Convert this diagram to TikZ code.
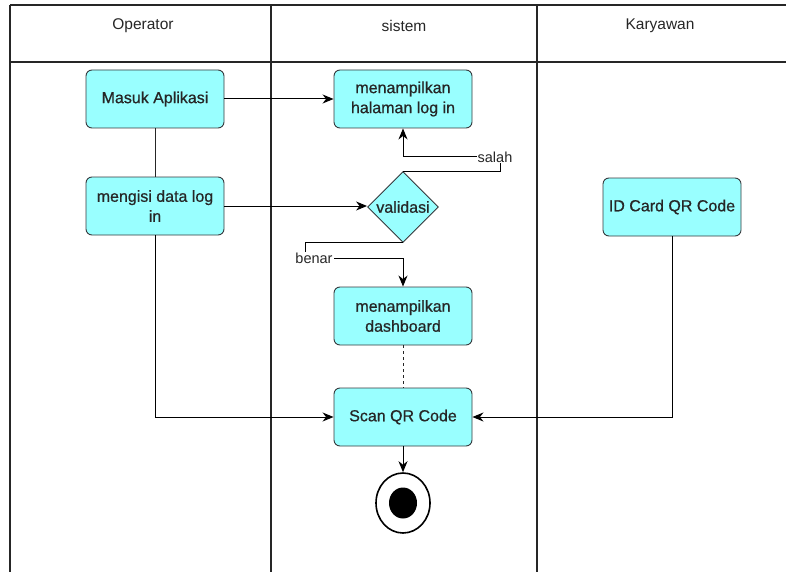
\documentclass[tikz,border=0pt]{standalone}
\usepackage{fontspec}
\setmainfont{Liberation Sans}
\newfontfamily\actfont[FakeBold=0.7]{Liberation Sans}
\usetikzlibrary{arrows.meta,shapes.geometric}
\definecolor{actfill}{HTML}{99FFFF}
\definecolor{actline}{HTML}{36393D}

\begin{document}
\begin{tikzpicture}[x=1pt,y=-1pt,
  lane/.style={draw=black!85, line width=1.5pt},
  hdr/.style={font=\fontsize{15.5}{18}\selectfont, text=black!85},
  act/.style={draw=actline, fill=actfill, rounded corners=6pt, line width=0.9pt,
    minimum width=138pt, minimum height=58pt, inner sep=2pt, align=center,
    font=\actfont\fontsize{16}{20}\selectfont, text=black!85},
  decide/.style={diamond, draw=actline, fill=actfill, line width=0.9pt,
    minimum width=71pt, minimum height=71pt, inner sep=0pt},
  flow/.style={draw=black, line width=1pt, -{Stealth[length=11pt,width=9pt,inset=3.5pt]}},
  plainlink/.style={draw=black!85, line width=1pt},
  guard/.style={fill=white, inner sep=1pt, font=\fontsize{14.5}{16}\selectfont, text=black!85}]

\useasboundingbox (0,0) rectangle (786,572);

% swimlanes
\draw[lane] (10,5) -- (786,5);
\draw[lane] (10,62) -- (786,62);
\draw[lane] (10,5) -- (10,572);
\draw[lane] (271,5) -- (271,572);
\draw[lane] (537,5) -- (537,572);

\node[hdr] (hOp)  at (143,26) {Operator};
\node[hdr] (hSys) at (404,26) {sistem};
\node[hdr] (hKar) at (660,26) {Karyawan};

% activities
\node[act] (masuk) at (155,99)  {Masuk Aplikasi};
\node[act] (isi)   at (155,206) {mengisi data log\\in};
\node[act] (hal)   at (403,99)  {menampilkan\\halaman log in};
\node[decide] (val) at (403,207) {};
\node[font=\actfont\fontsize{16}{20}\selectfont, text=black!85] (valtxt) at (val.center) {validasi};
\node[act] (dash)  at (403,316) {menampilkan\\dashboard};
\node[act] (scan)  at (403,417) {Scan QR Code};
\node[act] (idc)   at (672,207) {ID Card QR Code};

% final node
\node[ellipse, draw=black, line width=1.6pt, minimum width=54pt, minimum height=60pt, inner sep=0pt] (fin) at (403,503) {};
\fill[black] (fin.center) ellipse (14pt and 15.5pt);

% connectors
\draw[flow] (masuk.east) -- (masuk.east -| hal.west);
\draw[plainlink] (masuk.south) -- (isi.north);
\draw[flow] (isi.east) -- (isi.east -| val.west);
\draw[flow] (val.north) -- ++(97,0) -- ++(0,-15) -| (hal.south);
\node[guard] (salah) at (495,157) {salah};
\draw[flow] (val.south) -- ++(-98,0) -- ++(0,16) -| (dash.north);
\node[guard] (benar) at (314,258) {benar};
\draw[plainlink, dashed] (dash.south) -- (scan.north);
\draw[flow] (isi.south) |- (scan.west);
\draw[flow] (idc.south) |- (scan.east);
\draw[flow] (scan.south) -- (fin.north);
\end{tikzpicture}
\end{document}
